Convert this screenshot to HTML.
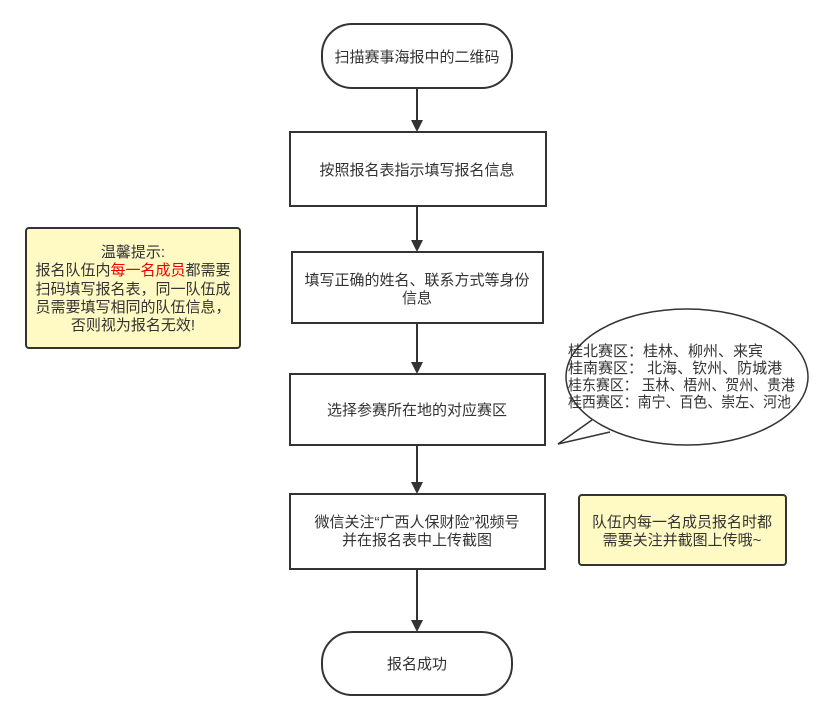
<!DOCTYPE html>
<html><head><meta charset="utf-8"><style>
html,body{margin:0;padding:0;background:#fff;}
svg{display:block;}
text{font-family:"Liberation Sans","Noto Sans CJK SC",sans-serif;font-size:15px;fill:#333;}
</style></head><body>
<svg width="832" height="719" viewBox="0 0 832 719" xmlns="http://www.w3.org/2000/svg">
<g fill="#fff" stroke="#333" stroke-width="2">
<rect x="322" y="24" width="190" height="64" rx="30"/>
<rect x="290" y="132" width="256" height="74"/>
<rect x="292" y="252" width="251" height="71"/>
<rect x="290" y="374" width="255" height="71"/>
<rect x="290" y="494" width="255" height="75"/>
<rect x="322" y="632" width="190" height="63" rx="30"/>
</g>
<g stroke="#333" stroke-width="2">
<line x1="417" y1="88" x2="417" y2="124"/><path d="M411,120 L423,120 L417,132 Z" fill="#333" stroke="none"/>
<line x1="417" y1="206" x2="417" y2="244"/><path d="M411,240 L423,240 L417,252 Z" fill="#333" stroke="none"/>
<line x1="417" y1="323" x2="417" y2="366"/><path d="M411,362 L423,362 L417,374 Z" fill="#333" stroke="none"/>
<line x1="417" y1="445" x2="417" y2="486"/><path d="M411,482 L423,482 L417,494 Z" fill="#333" stroke="none"/>
<line x1="417" y1="569" x2="417" y2="624"/><path d="M411,620 L423,620 L417,632 Z" fill="#333" stroke="none"/>
</g>
<rect x="26" y="228" width="214" height="120" rx="3" fill="#fff9c4" stroke="#333" stroke-width="2"/>
<rect x="579" y="495" width="207" height="70" rx="3" fill="#fff9c4" stroke="#333" stroke-width="2"/>
<ellipse cx="687" cy="377" rx="121" ry="68" fill="#fff" stroke="#333" stroke-width="1.5"/>
<path d="M592,420 L558,444 L610,432 Z" fill="#fff" stroke="none"/>
<polyline points="592,420 558,444 610,432" fill="none" stroke="#333" stroke-width="1.5"/>
<g text-anchor="middle">
<text x="417" y="62">扫描赛事海报中的二维码</text>
<text x="417" y="175">按照报名表指示填写报名信息</text>
<text x="417" y="285">填写正确的姓名、联系方式等身份</text>
<text x="417" y="303">信息</text>
<text x="417" y="415">选择参赛所在地的对应赛区</text>
<text x="417" y="527">微信关注“广西人保财险”视频号</text>
<text x="417" y="545">并在报名表中上传截图</text>
<text x="417" y="669">报名成功</text>
<text x="682" y="527">队伍内每一名成员报名时都</text>
<text x="682" y="545">需要关注并截图上传哦~</text>
<text x="133" y="257">温馨提示:</text>
<text x="133" y="275">报名队伍内<tspan fill="#e00">每一名成员</tspan>都需要</text>
<text x="133" y="294">扫码填写报名表，同一队伍成</text>
<text x="133" y="312">员需要填写相同的队伍信息，</text>
<text x="133" y="330">否则视为报名无效!</text>
</g>
<g font-size="13.5">
<text x="568" y="356">桂北赛区：桂林、柳州、来宾</text>
<text x="568" y="373">桂南赛区：  北海、钦州、防城港</text>
<text x="568" y="390" textLength="227" lengthAdjust="spacingAndGlyphs">桂东赛区：  玉林、梧州、贺州、贵港</text>
<text x="568" y="407" textLength="223" lengthAdjust="spacingAndGlyphs">桂西赛区：南宁、百色、崇左、河池</text>
</g>
</svg>
</body></html>
